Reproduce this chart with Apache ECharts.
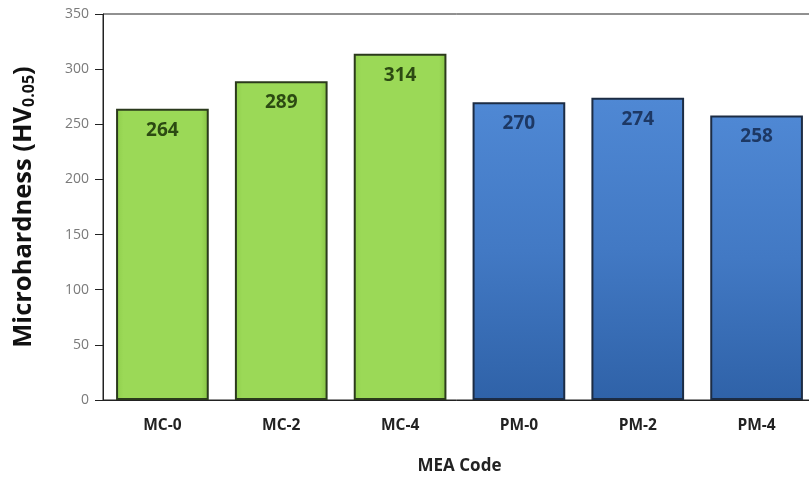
<!DOCTYPE html>
<html>
<head>
<meta charset="utf-8">
<script src="https://cdn.jsdelivr.net/npm/echarts@6/dist/echarts.min.js"></script>
<style>
  html, body { margin: 0; padding: 0; background: #ffffff; }
  #chart { width: 809px; height: 477px; }
</style>
</head>
<body>
<div id="chart"></div>
<script>
// MEA codes along the x axis
const categories = ['MC-0', 'MC-2', 'MC-4', 'PM-0', 'PM-2', 'PM-4'];
// Microhardness values (HV0.05)
const hardness = [264, 289, 314, 270, 274, 258];
// Which group each bar belongs to (MC = green, PM = blue)
const groups = ['MC', 'MC', 'MC', 'PM', 'PM', 'PM'];
const yTicks = [0, 50, 100, 150, 200, 250, 300, 350];

const palette = {
  MC: {
    fill: new echarts.graphic.LinearGradient(0, 0, 1, 0, [
      { offset: 0, color: '#8fce4c' },
      { offset: 0.08, color: '#9bd957' },
      { offset: 0.92, color: '#9bd957' },
      { offset: 1, color: '#86c244' }
    ]),
    border: '#2b3a1c',
    label: '#2c4a12'
  },
  PM: {
    fill: new echarts.graphic.LinearGradient(0, 0, 0, 1, [
      { offset: 0, color: '#4f88d4' },
      { offset: 0.5, color: '#4279c4' },
      { offset: 1, color: '#2f62a8' }
    ]),
    border: '#1c2c44',
    label: '#1d3864'
  }
};

const chart = echarts.init(document.getElementById('chart'), null, { renderer: 'canvas' });

chart.setOption({
  animation: false,
  backgroundColor: '#ffffff',
  grid: {
    left: 103,
    top: 14,
    right: -7,
    bottom: 77,
    show: true,
    borderColor: '#222',
    borderWidth: 1,
    containLabel: false,
    outerBoundsMode: 'none'
  },
  xAxis: {
    type: 'category',
    data: categories,
    name: 'MEA Code',
    nameLocation: 'middle',
    nameGap: 58,
    nameTextStyle: { fontFamily: 'Open Sans', fontWeight: 'bold', fontSize: 17, color: '#222' },
    axisLine: { lineStyle: { color: '#222', width: 1 } },
    axisTick: { show: false },
    axisLabel: { fontFamily: 'Open Sans', fontWeight: 'bold', fontSize: 15.5, color: '#222', margin: 18 }
  },
  yAxis: {
    type: 'value',
    min: yTicks[0],
    max: yTicks[yTicks.length - 1],
    interval: 50,
    name: '{t|Microhardness (HV}{s|0.05}{t|)}',
    nameLocation: 'middle',
    nameGap: 66,
    nameTextStyle: {
      rich: {
        t: { fontFamily: 'Open Sans', fontWeight: 'bold', fontSize: 25.5, color: '#111' },
        s: { fontFamily: 'Open Sans', fontWeight: 'bold', fontSize: 16, color: '#111', verticalAlign: 'bottom', padding: [10, 0, 0, 0] }
      }
    },
    axisLine: { show: true, lineStyle: { color: '#222', width: 1 } },
    axisTick: { show: true, length: 8, lineStyle: { color: '#222' } },
    splitLine: { show: false },
    axisLabel: { fontFamily: 'Open Sans', fontSize: 14, color: '#7a7a7a', margin: 14 }
  },
  series: [{
    type: 'bar',
    barCategoryGap: '22%',
    data: hardness.map((v, i) => ({
      value: v,
      itemStyle: {
        color: palette[groups[i]].fill,
        borderColor: palette[groups[i]].border,
        borderWidth: 2
      },
      label: { color: palette[groups[i]].label }
    })),
    label: {
      show: true,
      position: 'insideTop',
      distance: 12,
      fontFamily: 'Open Sans',
      fontWeight: 'bold',
      fontSize: 19
    }
  }]
});
</script>
</body>
</html>
